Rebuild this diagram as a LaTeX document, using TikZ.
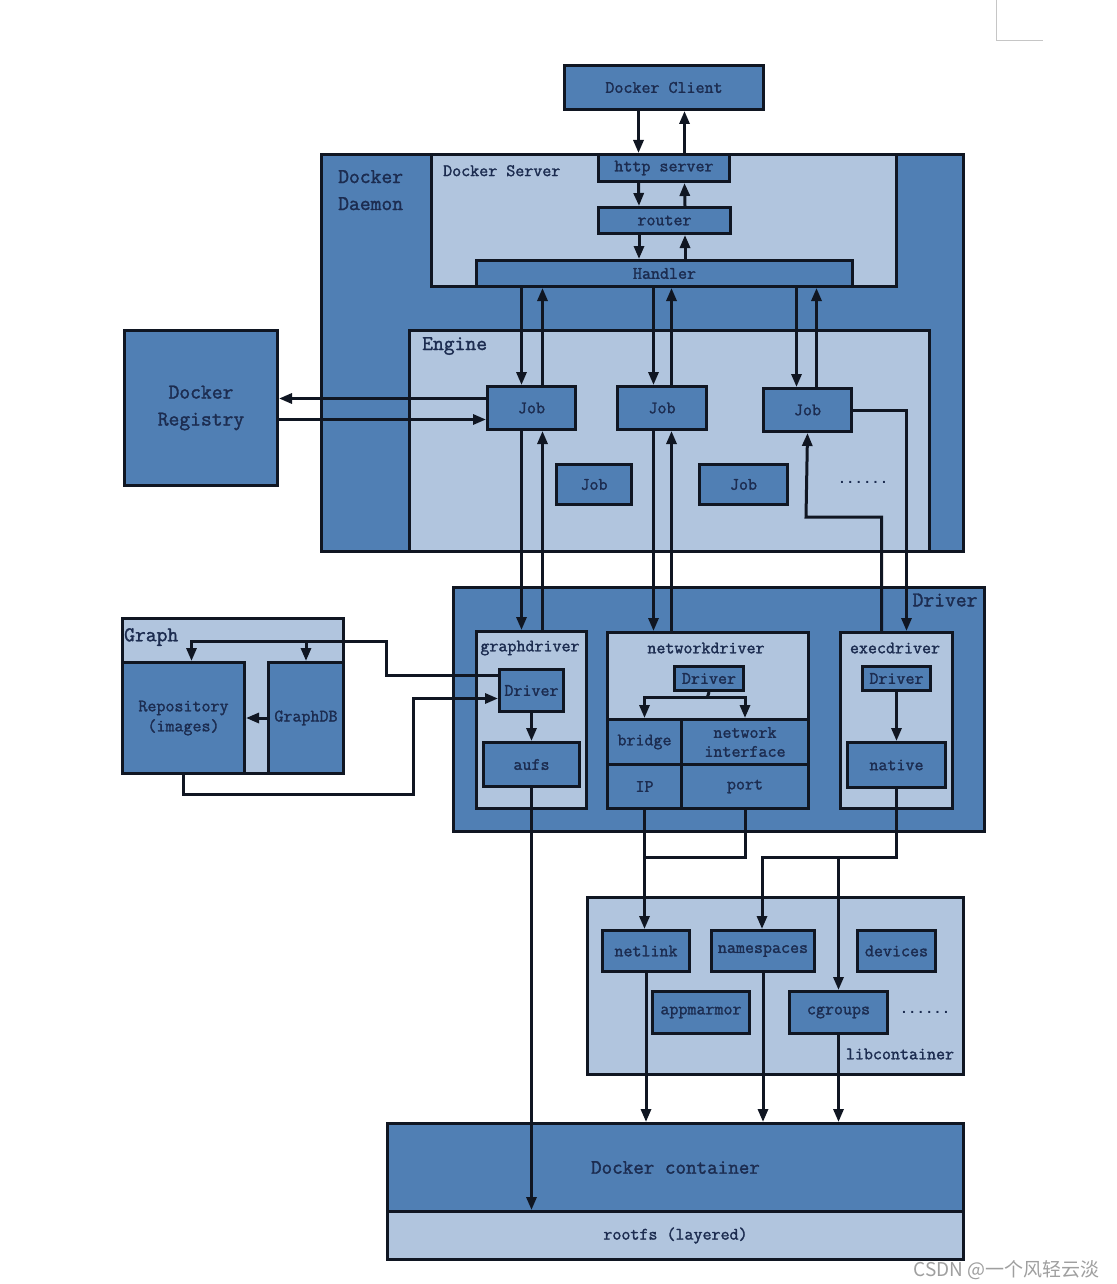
\documentclass[tikz,border=0pt]{standalone}
\usepackage{fontspec}
\newfontfamily\cjk{Noto Sans CJK SC}
\newfontfamily\dotfont{Liberation Mono}
\setmonofont[FakeBold=1.6]{Latin Modern Mono}
\usepackage{tikz}
\usetikzlibrary{arrows.meta,positioning,calc}
\definecolor{steel}{RGB}{80,127,180}
\definecolor{mist}{RGB}{177,197,222}
\definecolor{edge}{RGB}{16,22,34}
\definecolor{ink}{RGB}{28,44,80}

\begin{document}
\begin{tikzpicture}[
    x=1pt, y=-1pt,
    font=\ttfamily\fontsize{17.5}{20}\selectfont,
    dark/.style={draw=edge, line width=3pt, fill=steel, text=ink, inner sep=0pt, anchor=north west, align=center},
    pale/.style={dark, fill=mist},
    sz/.style 2 args={minimum width=#1pt, minimum height=#2pt},
    tag/.style={text=ink, inner sep=0pt, align=left},
    big/.style={font=\ttfamily\fontsize{21}{27}\selectfont},
    dotrow/.style={tag, font=\dotfont\bfseries\fontsize{14}{16}\selectfont},
    flow/.style={-{Triangle[length=13pt,width=10pt]}, line width=3pt, draw=edge},
    wire/.style={line width=3pt, draw=edge}
]
\useasboundingbox (0,0) rectangle (1116,1284);
\fill[white] (0,0) rectangle (1116,1284);
\draw[gray!45, line width=1pt] (996,0) -- (996,41) -- (1043,41);

% client and daemon
\node[dark, sz={199}{44}] (client) at (563,64) {Docker Client};
\node[dark, sz={642}{397}] (daemon) at (320,153) {};
\node[tag, big, anchor=north west] (daemonLbl) at (338,170) {Docker\\Daemon};
\node[pale, sz={465}{132}] (server) at (430,153) {};
\node[tag, anchor=north west] (serverLbl) at (443,165) {Docker Server};
\node[dark, sz={131}{27}] (http) at (597,153) {http server};
\node[dark, sz={132}{26}] (router) at (597,206) {router};
\node[dark, sz={376}{26}] (handler) at (475,259) {Handler};

% engine
\node[pale, sz={520}{221}] (engine) at (408,329) {};
\node[tag, big, anchor=north west] (engineLbl) at (422,337) {Engine};
\node[dark, sz={88}{43}] (job1) at (486,385) {Job};
\node[dark, sz={89}{43}] (job2) at (616,385) {Job};
\node[dark, sz={88}{43}] (job3) at (762,387) {Job};
\node[dark, sz={75}{40}] (job4) at (555,463) {Job};
\node[dark, sz={88}{40}] (job5) at (698,463) {Job};
\node[dotrow] (dotsA) at (863,482) {......};
\node[dark, big, sz={153}{155}] (registry) at (123,329) {Docker\\Registry};

% driver
\node[dark, sz={531}{244}] (driver) at (452,586) {};
\node[tag, big] (driverLbl) at (945,600) {Driver};
\node[pale, sz={110}{177}] (gdrv) at (475,630) {};
\node[tag] (gdrvLbl) at (530,648) {graphdriver};
\node[dark, sz={64}{42}] (gDriver) at (498,668) {Driver};
\node[dark, sz={96}{44}] (aufs) at (482,741) {aufs};
\node[pale, sz={201}{176}] (ndrv) at (606,631) {};
\node[tag] (ndrvLbl) at (706,648) {networkdriver};
\node[dark, sz={69}{24}] (nDriver) at (673,665) {Driver};
\node[dark, sz={74}{45}] (bridge) at (606,718) {bridge};
\node[dark, sz={127}{45}, font=\ttfamily\fontsize{17.5}{19}\selectfont] (netif) at (680,718) {network\\interface};
\node[dark, sz={74}{44}] (ip) at (606,763) {IP};
\node[dark, sz={127}{44}] (port) at (680,763) {port};
\node[pale, sz={112}{176}] (edrv) at (839,631) {};
\node[tag] (edrvLbl) at (895,648) {execdriver};
\node[dark, sz={68}{24}] (eDriver) at (861,665) {Driver};
\node[dark, sz={98}{45}] (native) at (846,741) {native};

% graph
\node[pale, sz={221}{155}] (graph) at (121,617) {};
\node[tag, big, anchor=north west] (graphLbl) at (124,628) {Graph};
\node[dark, sz={122}{111}] (repo) at (121,661) {Repository\\(images)};
\node[dark, sz={75}{111}] (gdb) at (267,661) {GraphDB};

% libcontainer
\node[pale, sz={376}{177}] (lib) at (586,896) {};
\node[tag] (libLbl) at (900,1054) {libcontainer};
\node[dark, sz={87}{41}] (netlink) at (601,929) {netlink};
\node[dark, sz={103}{41}] (ns) at (710,929) {namespaces};
\node[dark, sz={78}{41}] (devices) at (856,929) {devices};
\node[dark, sz={97}{42}] (apparmor) at (651,990) {appmarmor};
\node[dark, sz={98}{42}] (cgroups) at (788,990) {cgroups};
\node[dotrow] (dotsB) at (925,1012) {......};

% container
\node[dark, sz={576}{88}, font=\ttfamily\fontsize{20.5}{24}\selectfont] (container) at (386,1122) {Docker container};
\node[pale, sz={576}{48}] (rootfs) at (386,1210) {rootfs (layered)};

% bends
\coordinate (j2in) at ([xshift=-8.5pt]job2.north);
\coordinate (j2out) at ([xshift=9.5pt]job2.north);
\coordinate (j1in) at ([xshift=-10pt]job1.north);
\coordinate (j1out) at ([xshift=11pt]job1.north);
\coordinate (j3in) at ([xshift=-11pt]job3.north);
\coordinate (j3out) at ([xshift=9pt]job3.north);
\coordinate (xbend) at (806,517);
\coordinate (gbend) at (386,641);
\coordinate (gloop) at (413,794);
\coordinate (nsplit) at (707.5,697);
\coordinate (njoin) at (643,857);
\coordinate (ejoin) at (762,857);

% client <-> server
\draw[flow] ([xshift=-25.5pt]client.south) -- ([xshift=-25.5pt]http.north);
\draw[flow] ([xshift=20.5pt]http.north) -- ([xshift=20.5pt]client.south);
\draw[flow] ([xshift=-25.5pt]http.south) -- ([xshift=-25.5pt]router.north);
\draw[flow] ([xshift=20.5pt]router.north) -- ([xshift=20.5pt]http.south);
\draw[flow] ([xshift=-25.5pt]router.south) -- ([xshift=-25.5pt]handler.north);
\draw[flow] ([xshift=20.5pt]handler.north) -- ([xshift=20.5pt]router.south);

% handler <-> jobs
\draw[flow] (handler.south -| j1in) -- (j1in);
\draw[flow] (j1out) -- (handler.south -| j1out);
\draw[flow] (handler.south -| j2in) -- (j2in);
\draw[flow] (j2out) -- (handler.south -| j2out);
\draw[flow] (handler.south -| j3in) -- (j3in);
\draw[flow] (j3out) -- (handler.south -| j3out);

% registry
\draw[flow] ([yshift=9.5pt]job1.west) -- ([yshift=9.5pt]registry.east);
\draw[flow] ([yshift=-11.5pt]registry.east) -- ([yshift=-11.5pt]job1.west);

% jobs <-> drivers
\draw[flow] (job1.south -| j1in) -- (gdrv.north -| j1in);
\draw[flow] (gdrv.north -| j1out) -- (job1.south -| j1out);
\draw[flow] (job2.south -| j2in) -- (ndrv.north -| j2in);
\draw[flow] (ndrv.north -| j2out) -- (job2.south -| j2out);
\draw[flow] (job3.east) -| ([xshift=10pt]edrv.north);
\draw[flow] ([xshift=-15pt]edrv.north) |- (xbend) -- (job3.south);

% graph
\draw[flow] ([yshift=15pt]gDriver.west) -| (gbend) -| ([xshift=8pt]repo.north);
\draw[flow] (gbend -| gdb.north) -- (gdb.north);
\draw[flow] (repo.south) |- (gloop) |- ([yshift=-8pt]gDriver.west);
\draw[flow] (gdb.west) -- (repo.east);

% inside drivers
\draw[flow] (gDriver.south) -- (aufs.north);
\draw[flow] (aufs.south) -- (aufs.south |- rootfs.north);
\draw[wire] (nDriver.south) -- (nsplit);
\draw[flow] (nsplit) -| (bridge.north);
\draw[flow] (nsplit) -| (netif.north);
\draw[flow] (eDriver.south) -- (native.north);

% drivers -> libcontainer
\draw[flow] (ip.south) -- (ip.south |- netlink.north);
\draw[wire] (port.south) |- (njoin);
\draw[flow] (native.south) |- (ejoin) -- (ejoin |- ns.north);
\draw[flow] (cgroups.north |- ejoin) -- (cgroups.north);

% libcontainer -> container
\draw[flow] (netlink.south) -- (netlink.south |- container.north);
\draw[flow] (ns.south) -- (ns.south |- container.north);
\draw[flow] (cgroups.south) -- (cgroups.south |- container.north);

\node[text=gray!75, font=\cjk\fontsize{19}{22}\selectfont, anchor=base east, inner sep=0pt] (wmark) at (1100,1276) {CSDN @一个风轻云淡};
\end{tikzpicture}
\end{document}
